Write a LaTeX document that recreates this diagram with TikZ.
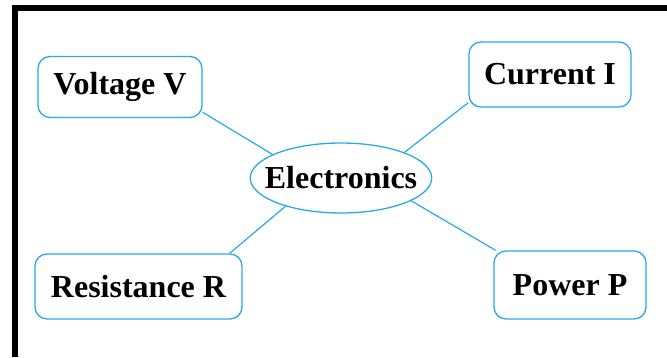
\documentclass[tikz,border=0pt]{standalone}
\usepackage{fontspec}
\setmainfont{Liberation Serif}
\usepackage{tikz}
\usetikzlibrary{shapes.geometric}
\definecolor{skyblue}{RGB}{41,171,226}

\begin{document}
\begin{tikzpicture}[
  x=1pt, y=-1pt,
  box/.style={draw=skyblue, line width=1.3pt, rounded corners=12pt, font=\fontsize{32}{38}\selectfont\bfseries, align=center, inner sep=0pt},
  hub/.style={draw=skyblue, line width=1.3pt, ellipse, minimum width=180pt, minimum height=70pt, inner xsep=-12pt, inner ysep=0pt, font=\fontsize{32}{38}\selectfont\bfseries},
  link/.style={draw=skyblue, line width=1.2pt},
]
  \useasboundingbox (0,0) rectangle (667,357);
  \draw[line width=6pt, miter limit=10] (15,357) -- (15,8) -- (667,8);

  \node[hub] (elec) at (341,178) {Electronics};
  \node[box, minimum width=164pt, minimum height=61pt] (volt) at (120,87) {Voltage V};
  \node[box, minimum width=162pt, minimum height=65pt] (curr) at (550,74.5) {Current I};
  \node[box, minimum width=207pt, minimum height=65pt] (res) at (138.5,286.5) {Resistance R};
  \node[box, minimum width=152pt, minimum height=68pt] (pow) at (570,285) {Power P};

  \draw[link] (volt.-17) -- (elec.161);
  \draw[link] (curr.199) -- (elec.22);
  \draw[link] (res.20) -- (elec.207);
  \draw[link] (pow.155) -- (elec.-18);
\end{tikzpicture}
\end{document}
